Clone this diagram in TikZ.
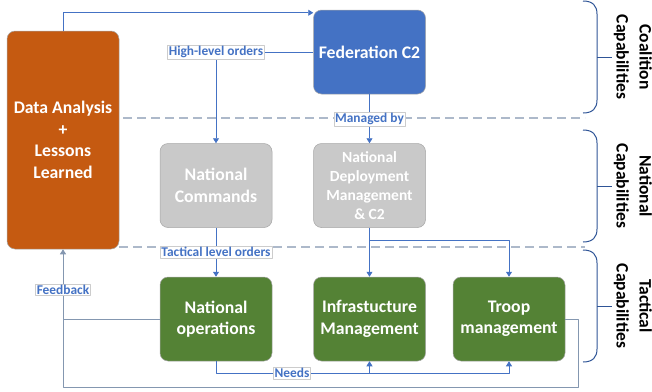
\documentclass[tikz,border=0pt]{standalone}
\usepackage{fontspec}
\setmainfont{Carlito}
\usetikzlibrary{arrows.meta}
\definecolor{cOrange}{HTML}{C55A11}
\definecolor{cBlue}{HTML}{4472C4}
\definecolor{cGrey}{HTML}{C9C9C9}
\definecolor{cGreen}{HTML}{548235}
\definecolor{cLine}{HTML}{4472C4}
\definecolor{cFeed}{HTML}{8497B0}
\definecolor{cSep}{HTML}{ADB9CA}
\definecolor{cBrace}{HTML}{2F5597}
\tikzset{
	box/.style={draw=black!35,line width=.5pt,rounded corners=8pt,minimum width=112pt,minimum height=84pt,
		align=center,text=white,font=\fontsize{17.7}{21.5}\selectfont\bfseries},
	lbl/.style={fill=white,draw=black!20,line width=.4pt,inner sep=1.2pt,text=cBlue,
		font=\fontsize{13.4}{15}\selectfont\bfseries},
	conn/.style={cLine,line width=.8pt},
	fb/.style={cFeed,line width=1pt},
	sep/.style={cSep,line width=1.2pt,dash pattern=on 9pt off 5pt},
	brc/.style={cBrace,line width=1pt},
	captext/.style={rotate=-90,align=center,font=\fontsize{17.5}{23}\selectfont\bfseries}
}
\begin{document}
\begin{tikzpicture}[>={Triangle[width=6pt,length=5pt]},line join=round,x=1pt,y=-1pt]
	\useasboundingbox (0,0) rectangle (652,391);
	% boxes
	\node[box,fill=cOrange,minimum height=218pt] (data) at (63,140) {Data Analysis\\+\\Lessons\\Learned};
	\node[box,fill=cBlue] (fed) at (369.5,52) {Federation C2};
	\node[box,fill=cGrey] (natcmd) at (216,185.5) {National\\Commands};
	\node[box,fill=cGrey,font=\fontsize{15.5}{19}\selectfont\bfseries] (natdep) at (369.5,185.5) {National\\Deployment\\Management\\\& C2};
	\node[box,fill=cGreen] (natops) at (216,319) {National\\operations};
	\node[box,fill=cGreen] (infra) at (369.5,319) {Infrastucture\\Management};
	\node[box,fill=cGreen] (troop) at (509,319) {Troop\\management};
	% layer separators
	\draw[sep] (123,118) -- (585,118);
	\draw[sep] (119,247) -- (585,247);
	% connectors
	\draw[conn,->] (data.north) |- ([yshift=-3pt]fed.north west);
	\draw[conn,->] (fed.west) -| node[lbl]{High-level orders} (natcmd.north);
	\draw[conn,->] (fed) -- node[lbl]{Managed by} (natdep);
	\draw[conn,->] (natcmd) -- node[lbl]{Tactical level orders} (natops);
	\draw[conn,->] (natdep) -- (infra);
	\draw[conn,->] (natdep.south) -- ++(0,13) -| (troop.north);
	\coordinate (needs) at (0,373);
	\draw[conn,->] (natops.south) |- (needs -| troop.south) -- (troop.south);
	\draw[conn,->] (infra.south |- needs) -- (infra.south);
	\node[lbl] (nd) at (292,373) {Needs};
	\coordinate (fbc) at (63,387);
	\draw[fb] (troop.east) -- ++(13,0) |- (fbc) -- (natops.west -| fbc);
	\draw[fb,->] (natops.west) -| node[lbl,pos=.71]{Feedback} (data.south);
	% braces
	\foreach \t/\m/\b/\txt in {1/57/113/{Coalition\\Capabilities},130/186/242/{National\\Capabilities},250/306/362/{Tactical\\Capabilities}}{
		\draw[brc] (583,\t) .. controls (593,\t) and (597,\t+5) .. (597,\t+13) -- (597,\b-13) .. controls (597,\b-5) and (593,\b) .. (583,\b);
		\draw[brc] (597,\m) -- (612,\m);
		\node[captext] at (633,\m) {\txt};
	}
\end{tikzpicture}
\end{document}
